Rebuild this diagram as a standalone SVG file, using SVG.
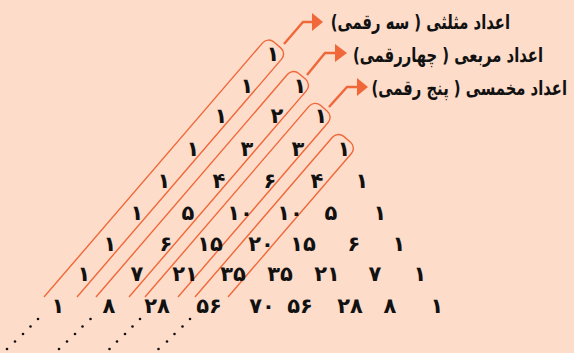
<svg xmlns="http://www.w3.org/2000/svg" width="574" height="353" viewBox="0 0 574 353">
<style>
.bg{fill:#FDDCC9}
.box{fill:none;stroke:#F0683A;stroke-width:1.4}
.lead{fill:none;stroke:#F0683A;stroke-width:2.4}
.head{fill:#F0683A}
.n{font-family:"DejaVu Sans",sans-serif;font-size:21px;font-weight:bold;fill:#111;text-anchor:middle}
.lbl{font-family:"DejaVu Sans",sans-serif;font-size:20px;font-weight:bold;fill:#111}
.dot{fill:#111}
</style>
<rect class="bg" x="0" y="0" width="574" height="353"/>
<g id="boxes">
<g id="box1" transform="translate(60.5,297) rotate(-49.3)"><path class="box" d="M-10.8,-12.5 H324.5 A8,8 0 0 1 332.5,-4.5 V4.5 A8,8 0 0 1 324.5,12.5 H10.8"/></g>
<g id="box2" transform="translate(112.5,297) rotate(-49.3)"><path class="box" d="M-10.8,-12.5 H283 A8,8 0 0 1 291,-4.5 V4.5 A8,8 0 0 1 283,12.5 H10.8"/></g>
<g id="box3" transform="translate(161.5,297) rotate(-49.3)"><path class="box" d="M-10.8,-12.5 H241 A8,8 0 0 1 249,-4.5 V4.5 A8,8 0 0 1 241,12.5 H10.8"/></g>
<g id="box4" transform="translate(211.5,297) rotate(-49.3)"><path class="box" d="M-10.8,-12.5 H200 A8,8 0 0 1 208,-4.5 V4.5 A8,8 0 0 1 200,12.5 H10.8"/></g>
</g>
<g id="connectors">
<path class="lead" d="M284,44 L303,22 H313"/><polygon class="head" points="312,13 323,22 312,31"/>
<path class="lead" d="M307,75 L325,53 H336"/><polygon class="head" points="335,44 347,53 335,62"/>
<path class="lead" d="M329,107 L347,87 H358"/><polygon class="head" points="357,78 368,87 357,96"/>
</g>
<g id="labels">
<text id="label1" class="lbl" transform="translate(510,29) scale(0.74,1)" x="0" y="0" direction="rtl" text-anchor="start">اعداد مثلثی ( سه رقمی)</text>
<text id="label2" class="lbl" transform="translate(543,62) scale(0.74,1)" x="0" y="0" direction="rtl" text-anchor="start">اعداد مربعی ( چهاررقمی)</text>
<text id="label3" class="lbl" transform="translate(567,95) scale(0.74,1)" x="0" y="0" direction="rtl" text-anchor="start">اعداد مخمسی ( پنج رقمی)</text>
</g>
<g id="triangle">
<text class="n" x="273" y="61">۱</text>
<text class="n" x="247" y="93">۱</text><text class="n" x="300" y="93">۱</text>
<text class="n" x="221" y="123">۱</text><text class="n" x="277" y="123">۲</text><text class="n" x="321" y="123">۱</text>
<text class="n" x="193" y="156">۱</text><text class="n" x="247" y="156">۳</text><text class="n" x="298" y="156">۳</text><text class="n" x="344" y="156">۱</text>
<text class="n" x="164" y="188">۱</text><text class="n" x="219" y="188">۴</text><text class="n" x="270" y="188">۶</text><text class="n" x="317" y="188">۴</text><text class="n" x="362" y="188">۱</text>
<text class="n" x="137" y="220">۱</text><text class="n" x="188" y="220">۵</text><text class="n" x="240" y="220">۱۰</text><text class="n" x="290" y="220">۱۰</text><text class="n" x="331" y="220">۵</text><text class="n" x="380" y="220">۱</text>
<text class="n" x="110" y="251">۱</text><text class="n" x="166" y="251">۶</text><text class="n" x="210" y="251">۱۵</text><text class="n" x="261" y="251">۲۰</text><text class="n" x="303" y="251">۱۵</text><text class="n" x="354" y="251">۶</text><text class="n" x="399" y="251">۱</text>
<text class="n" x="84" y="281">۱</text><text class="n" x="137" y="281">۷</text><text class="n" x="185" y="281">۲۱</text><text class="n" x="233" y="281">۳۵</text><text class="n" x="280" y="281">۳۵</text><text class="n" x="327" y="281">۲۱</text><text class="n" x="375" y="281">۷</text><text class="n" x="420" y="281">۱</text>
<text class="n" x="58" y="313">۱</text><text class="n" x="109" y="313">۸</text><text class="n" x="157" y="313">۲۸</text><text class="n" x="209" y="313">۵۶</text><text class="n" x="262" y="313">۷۰</text><text class="n" x="300" y="313">۵۶</text><text class="n" x="350" y="313">۲۸</text><text class="n" x="390" y="313">۸</text><text class="n" x="437" y="313">۱</text>
</g>
<g id="dots">
<circle class="dot" cx="38" cy="319" r="1.3"/><circle class="dot" cx="30.5" cy="326.5" r="1.3"/><circle class="dot" cx="23" cy="334" r="1.3"/><circle class="dot" cx="15" cy="341.5" r="1.3"/><circle class="dot" cx="7" cy="349" r="1.3"/>
<circle class="dot" cx="90.5" cy="319" r="1.3"/><circle class="dot" cx="82.5" cy="326.5" r="1.3"/><circle class="dot" cx="75" cy="334" r="1.3"/><circle class="dot" cx="67" cy="341.5" r="1.3"/><circle class="dot" cx="59" cy="349" r="1.3"/>
<circle class="dot" cx="140" cy="319" r="1.3"/><circle class="dot" cx="132.5" cy="326.5" r="1.3"/><circle class="dot" cx="125" cy="334" r="1.3"/><circle class="dot" cx="117" cy="341.5" r="1.3"/><circle class="dot" cx="109.5" cy="349" r="1.3"/>
<circle class="dot" cx="190" cy="319" r="1.3"/><circle class="dot" cx="182.5" cy="326.5" r="1.3"/><circle class="dot" cx="174.5" cy="334" r="1.3"/><circle class="dot" cx="167" cy="341.5" r="1.3"/><circle class="dot" cx="158.5" cy="349" r="1.3"/>
</g>
</svg>
